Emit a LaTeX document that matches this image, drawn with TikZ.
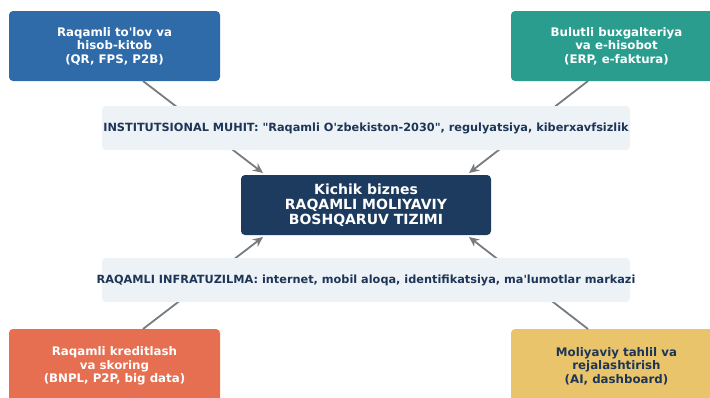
\documentclass[tikz,border=0pt]{standalone}
\usepackage{fontspec}
\setmainfont{DejaVu Sans}[Ligatures=TeXOff]
\usetikzlibrary{arrows.meta}
\definecolor{cblue}{HTML}{2F6BA8}
\definecolor{cteal}{HTML}{2A9D8F}
\definecolor{corange}{HTML}{E76F51}
\definecolor{cyellow}{HTML}{E9C46A}
\definecolor{cnavy}{HTML}{1D3A5F}
\definecolor{ctext}{HTML}{1D3557}
\definecolor{cband}{HTML}{EDF2F7}
\definecolor{carrow}{HTML}{767B80}
\tikzset{
  corner/.style={rounded corners=4pt, minimum width=211pt, minimum height=70pt, align=center, font=\bfseries\fontsize{11.8}{13.5}\selectfont, inner sep=0pt},
  band/.style={rounded corners=4pt, fill=cband, minimum width=528pt, minimum height=44pt, inner sep=0pt},
  bandtext/.style={font=\bfseries\fontsize{11.3}{13}\selectfont, text=ctext, inner sep=0pt},
  conn/.style={draw=carrow, line width=1.8pt, -{Stealth[length=10pt,width=9pt]}},
}
\begin{document}
\begin{tikzpicture}[x=1pt,y=-1pt]
\useasboundingbox (0,0) rectangle (710,397);
\node[corner, fill=cblue, text=white] (tl) at (114.5,46) {Raqamli to'lov va\\hisob-kitob\\(QR, FPS, P2B)};
\node[corner, fill=cteal, text=white] (tr) at (616.5,46) {Bulutli buxgalteriya\\va e-hisobot\\(ERP, e-faktura)};
\node[corner, fill=corange, text=white, minimum height=74pt] (bl) at (114.5,366) {Raqamli kreditlash\\va skoring\\(BNPL, P2P, big data)};
\node[corner, fill=cyellow, text=ctext, minimum height=74pt] (br) at (616.5,366) {Moliyaviy tahlil va\\rejalashtirish\\(AI, dashboard)};
\node[rounded corners=4pt, fill=cnavy, text=white, minimum width=250pt, minimum height=60pt, align=center, inner sep=0pt, font=\bfseries\fontsize{14}{15}\selectfont] (c) at (366,205) {Kichik biznes\\RAQAMLI MOLIYAVIY\\BOSHQARUV TIZIMI};
\coordinate (ctl) at (263,173);
\coordinate (ctr) at (469,173);
\coordinate (cbl) at (263,237);
\coordinate (cbr) at (469,237);
\coordinate (stl) at (143,81);
\coordinate (str) at (588,81);
\coordinate (sbl) at (143,329);
\coordinate (sbr) at (588,329);
\draw[conn] (stl) -- (ctl);
\draw[conn] (str) -- (ctr);
\draw[conn] (sbl) -- (cbl);
\draw[conn] (sbr) -- (cbr);
\node[band] (inst) at (366,128) {};
\node[bandtext] (insttxt) at (inst) {INSTITUTSIONAL MUHIT: "Raqamli O'zbekiston-2030", regulyatsiya, kiberxavfsizlik};
\node[band] (infra) at (366,280) {};
\node[bandtext] (infratxt) at (infra) {RAQAMLI INFRATUZILMA: internet, mobil aloqa, identifikatsiya, ma'lumotlar markazi};
\end{tikzpicture}
\end{document}
